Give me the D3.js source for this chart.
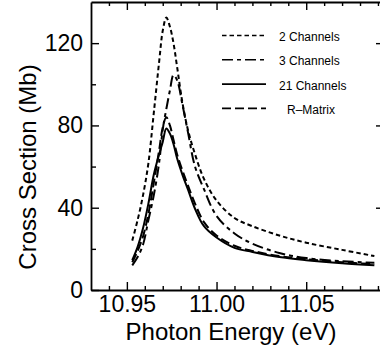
<!DOCTYPE html>
<html>
<head>
<meta charset="utf-8">
<script src="https://cdn.jsdelivr.net/npm/d3@7"></script>
<style>
    body { margin: 0; background: #fff; overflow: hidden; }
    svg { display: block; }
    text { font-family: "Liberation Sans", Arial, Helvetica, sans-serif; fill: #000; }
</style>
</head>
<body>
<script>
// photon energy (eV), shared by all four series
const energy = [10.953, 10.956, 10.959, 10.962, 10.965, 10.968, 10.970, 10.972, 10.974, 10.976, 10.978,
                10.981, 10.984, 10.988, 10.993, 11.000, 11.010, 11.020, 11.035, 11.050, 11.070, 11.088];

// cross sections (Mb)
const twoChannels  = [24, 34, 46, 61.6, 86, 111, 126, 132.5, 128, 120, 108.5,
                      91, 78, 66, 54, 43.5, 35, 31, 26.5, 23, 19.5, 16.5];
const threeChannels = [12, 16, 22, 34, 46, 62, 78, 88, 97, 104.5, 102,
                       90, 77, 60, 49, 36, 27.5, 22.5, 18, 15.5, 14, 13.2];
const twentyOneChannels = [14.5, 21, 30, 42, 56, 66, 72, 78.5, 76, 71, 64,
                           56, 49, 39.5, 31, 25.5, 20.5, 18.5, 16, 14.5, 13, 12];
const rMatrix = [13.5, 19, 26, 37, 52, 68, 79, 84, 80, 73, 66,
                 58, 51, 42, 33, 26.5, 21.5, 19, 16.5, 15, 13.5, 12.6];

const seriesNames = ["2 Channels", "3 Channels", "21 Channels", "R\u2013Matrix"];

const xTicks = [10.95, 11.00, 11.05];
const xMinorTicks = [10.94, 10.96, 10.97, 10.98, 10.99, 11.01, 11.02, 11.03, 11.04, 11.06, 11.07, 11.08, 11.09];
const yTicks = [0, 40, 80, 120];
const yMinorTicks = [20, 60, 100];

const series = [
    {name: seriesNames[0], values: twoChannels, dash: "4.5,3"},
    {name: seriesNames[1], values: threeChannels, dash: "11,4,4,4"},
    {name: seriesNames[2], values: twentyOneChannels, dash: null},
    {name: seriesNames[3], values: rMatrix, dash: "9,4"}
];

const W = 380, H = 352;
const frame = {left: 91, right: 381, top: 2, bottom: 290};

const svg = d3.select("body").append("svg")
    .attr("width", W)
    .attr("height", H);

const x = d3.scaleLinear().domain([10.93, 11.0917]).range([frame.left, frame.right]);
const y = d3.scaleLinear().domain([0, 140]).range([frame.bottom, frame.top]);

// bottom axis
svg.append("g")
    .attr("transform", "translate(0," + frame.bottom + ")")
    .call(d3.axisBottom(x).tickValues(xTicks).tickSize(-8).tickSizeOuter(0)
        .tickPadding(6).tickFormat(d3.format(".2f")));
svg.append("g")
    .attr("transform", "translate(0," + frame.bottom + ")")
    .call(d3.axisBottom(x).tickValues(xMinorTicks).tickSize(-4).tickSizeOuter(0).tickFormat(""))
    .select(".domain").remove();

// top axis, ticks only
svg.append("g")
    .attr("transform", "translate(0," + frame.top + ")")
    .call(d3.axisTop(x).tickValues(xTicks).tickSize(-8).tickSizeOuter(0).tickFormat(""));
svg.append("g")
    .attr("transform", "translate(0," + frame.top + ")")
    .call(d3.axisTop(x).tickValues(xMinorTicks).tickSize(-4).tickSizeOuter(0).tickFormat(""))
    .select(".domain").remove();

// left axis
svg.append("g")
    .attr("transform", "translate(" + frame.left + ",0)")
    .call(d3.axisLeft(y).tickValues(yTicks).tickSize(-8).tickSizeOuter(0).tickPadding(8));
svg.append("g")
    .attr("transform", "translate(" + frame.left + ",0)")
    .call(d3.axisLeft(y).tickValues(yMinorTicks).tickSize(-5).tickSizeOuter(0).tickFormat(""))
    .select(".domain").remove();

// right side: the frame line falls just outside the picture, only the tick stubs show
svg.append("g")
    .attr("transform", "translate(" + (frame.right + 4) + ",0)")
    .call(d3.axisRight(y).tickValues(yTicks.slice(1)).tickSize(-9).tickSizeOuter(0).tickFormat(""))
    .select(".domain").remove();

svg.selectAll(".domain").attr("stroke-width", 1.8);
svg.selectAll(".tick line").attr("stroke-width", 1.4);
svg.selectAll(".tick text")
    .attr("font-family", "'Liberation Sans', Arial, sans-serif")
    .attr("font-size", "23px");

// axis titles
svg.append("text")
    .attr("x", 231)
    .attr("y", 340)
    .attr("text-anchor", "middle")
    .style("font-size", "24px")
    .text("Photon Energy (eV)");

svg.append("text")
    .attr("transform", "translate(36,167) rotate(-90)")
    .attr("text-anchor", "middle")
    .style("font-size", "24px")
    .text("Cross Section (Mb)");

// curves
const line = d3.line()
    .x(function(d, i){ return x(energy[i]); })
    .y(function(d){ return y(d); })
    .curve(d3.curveCatmullRom.alpha(0.5));

svg.append("g").selectAll("path")
    .data(series)
    .enter()
    .append("path")
    .attr("d", function(d){ return line(d.values); })
    .attr("fill", "none")
    .attr("stroke", "#000")
    .attr("stroke-width", 2)
    .attr("stroke-dasharray", function(d){ return d.dash; });

// legend
const legend = svg.append("g").selectAll("g")
    .data(series)
    .enter()
    .append("g")
    .attr("transform", function(d, i){ return "translate(0," + (35.5 + i * 24.3) + ")"; });

legend.append("line")
    .attr("x1", 222)
    .attr("x2", 266)
    .attr("stroke", "#000")
    .attr("stroke-width", 1.6)
    .attr("stroke-dasharray", function(d){ return d.dash; });

legend.append("text")
    .attr("x", function(d, i){ return i === 3 ? 287 : 279; })
    .attr("y", 5.5)
    .style("font-size", "12px")
    .text(function(d){ return d.name; });
</script>
</body>
</html>
